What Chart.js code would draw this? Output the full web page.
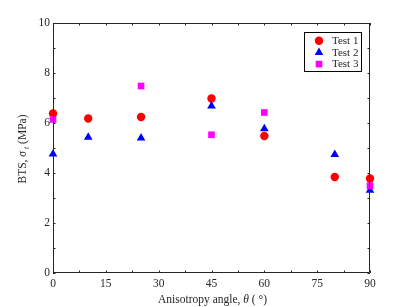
<!DOCTYPE html>
<html><head><meta charset="utf-8">
<script src="https://cdn.jsdelivr.net/npm/chart.js@4"></script>
<style>html,body{margin:0;padding:0;background:#fff}#wrap{width:409px;height:307px}</style>
</head><body><div id="wrap"><canvas id="c"></canvas></div>
<script>
const angles1 = [0, 10, 25, 45, 60, 80, 90];
const test1 = [6.38, 6.18, 6.24, 6.98, 5.48, 3.84, 3.78];
const angles2 = [0, 10, 25, 45, 60, 80, 90];
const test2 = [4.76, 5.43, 5.40, 6.68, 5.77, 4.74, 3.31];
const angles3 = [0, 25, 45, 60, 90];
const test3 = [6.14, 7.48, 5.53, 6.42, 3.49];
const seriesNames = ['Test 1', 'Test 2', 'Test 3'];
const xLabelStep = 15, xMinorStep = 7.5;
const yLabelStep = 2, yMinorStep = 1;
const xTitle = 'Anisotropy angle, θ (°)';
const yTitle = 'BTS, σt (MPa)';

const AX = '#262626';
const FONT = '"Liberation Serif", "Times New Roman", serif';

function pts(xs, ys) { return xs.map((x, i) => ({x: x, y: ys[i]})); }

const styles = [
  {color: '#ff0000', pointStyle: 'circle', radius: 4.2},
  {color: '#0000ff', pointStyle: 'triangle', radius: 5},
  {color: '#ff00ff', pointStyle: 'rect', radius: 4.7}
];
const dataSets = [pts(angles1, test1), pts(angles2, test2), pts(angles3, test3)];

const boxTicks = {
  id: 'boxTicks',
  afterDraw(chart) {
    const ctx = chart.ctx, a = chart.chartArea;
    const xs = chart.scales.x, ys = chart.scales.y;
    ctx.save();
    ctx.strokeStyle = AX;
    ctx.lineWidth = 1;
    ctx.beginPath();
    ctx.rect(a.left + 0.5, a.top + 0.5, a.right - a.left - 1, a.bottom - a.top - 1);
    ctx.stroke();
    const L = 2.5;
    ctx.beginPath();
    xs.ticks.forEach(t => {
      const px = Math.round(xs.getPixelForValue(t.value)) + 0.5;
      ctx.moveTo(px, a.bottom); ctx.lineTo(px, a.bottom - L);
      ctx.moveTo(px, a.top); ctx.lineTo(px, a.top + L);
    });
    ys.ticks.forEach(t => {
      const py = Math.round(ys.getPixelForValue(t.value)) + 0.5;
      ctx.moveTo(a.left, py); ctx.lineTo(a.left + L, py);
      ctx.moveTo(a.right, py); ctx.lineTo(a.right - L, py);
    });
    ctx.stroke();

    // axis titles
    ctx.fillStyle = AX;
    ctx.textBaseline = 'alphabetic';
    const segX = [
      {t: 'Anisotropy angle, ', f: '11.5px ' + FONT, dy: 0},
      {t: 'θ', f: 'italic 11.5px ' + FONT, dy: 0},
      {t: ' ( °)', f: '11.5px ' + FONT, dy: 0}
    ];
    drawSegs(ctx, segX, (a.left + a.right) / 2 + 1, 303);
    ctx.save();
    ctx.translate(26, (a.top + a.bottom) / 2 + 1);
    ctx.rotate(-Math.PI / 2);
    const segY = [
      {t: 'BTS, ', f: '11.5px ' + FONT, dy: 0},
      {t: 'σ', f: 'italic 11.5px ' + FONT, dy: 0},
      {t: ' t', f: 'italic 8px ' + FONT, dy: 2.5},
      {t: ' (MPa)', f: '11.5px ' + FONT, dy: 0}
    ];
    drawSegs(ctx, segY, 0, 0);
    ctx.restore();

    // legend
    const lx = a.right - 66, ly = a.top + 9, lw = 57, lh = 39;
    ctx.fillStyle = '#ffffff';
    ctx.fillRect(lx, ly, lw, lh);
    ctx.strokeStyle = '#000000';
    ctx.lineWidth = 1;
    ctx.strokeRect(lx + 0.5, ly + 0.5, lw, lh);
    seriesNames.forEach((name, i) => {
      const cy = ly + 8.7 + i * 11.7;
      const cx = lx + 15;
      const s = styles[i];
      ctx.fillStyle = s.color;
      ctx.beginPath();
      drawMarker(ctx, s.pointStyle, s.radius, cx, cy);
      ctx.fill();
      ctx.fillStyle = AX;
      ctx.font = '11px ' + FONT;
      ctx.textBaseline = 'middle';
      ctx.textAlign = 'left';
      ctx.fillText(name, lx + 28, cy + 0.5);
    });
    ctx.restore();
  }
};

function drawMarker(ctx, style, r, x, y) {
  if (style === 'circle') { ctx.arc(x, y, r, 0, Math.PI * 2); }
  else if (style === 'triangle') {
    for (let k = 0; k < 3; k++) {
      const ang = k * 2 * Math.PI / 3;
      const px = x + Math.sin(ang) * r, py = y - Math.cos(ang) * r;
      if (k === 0) ctx.moveTo(px, py); else ctx.lineTo(px, py);
    }
    ctx.closePath();
  } else {
    const s = Math.SQRT1_2 * r;
    ctx.rect(x - s, y - s, 2 * s, 2 * s);
  }
}

function drawSegs(ctx, segs, cx, baseY) {
  let total = 0;
  segs.forEach(s => { ctx.font = s.f; s.w = ctx.measureText(s.t).width; total += s.w; });
  let x = cx - total / 2;
  ctx.textAlign = 'left';
  segs.forEach(s => { ctx.font = s.f; ctx.fillText(s.t, x, baseY + s.dy); x += s.w; });
}

new Chart(document.getElementById('c'), {
  type: 'scatter',
  data: {
    datasets: seriesNames.map((n, i) => ({
      label: n,
      data: dataSets[i],
      pointStyle: styles[i].pointStyle,
      pointRadius: styles[i].radius,
      pointHoverRadius: styles[i].radius,
      backgroundColor: styles[i].color,
      borderColor: styles[i].color,
      borderWidth: 0,
      clip: false,
      order: 3 - i
    }))
  },
  options: {
    responsive: true,
    maintainAspectRatio: false,
    animation: false,
    layout: {padding: {top: 23, right: 39, bottom: 0, left: 0}},
    plugins: {legend: {display: false}, tooltip: {enabled: false}},
    scales: {
      x: {
        type: 'linear', min: 0, max: 90,
        grid: {display: false, drawTicks: false},
        border: {display: false},
        title: {display: false, text: xTitle},
        ticks: {
          stepSize: xMinorStep, autoSkip: false, maxRotation: 0, padding: 4,
          color: AX, font: {family: FONT, size: 11.5},
          callback: v => (Math.abs(v % xLabelStep) < 1e-6 ? String(v) : '')
        },
        afterFit: s => { s.height = 34; }
      },
      y: {
        type: 'linear', min: 0, max: 10,
        grid: {display: false, drawTicks: false},
        border: {display: false},
        title: {display: false, text: yTitle},
        ticks: {
          stepSize: yMinorStep, autoSkip: false, padding: 3,
          color: AX, font: {family: FONT, size: 11.5},
          callback: v => (Math.abs(v % yLabelStep) < 1e-6 ? String(v) : '')
        },
        afterFit: s => { s.width = 53; }
      }
    }
  },
  plugins: [boxTicks]
});
</script></body></html>
